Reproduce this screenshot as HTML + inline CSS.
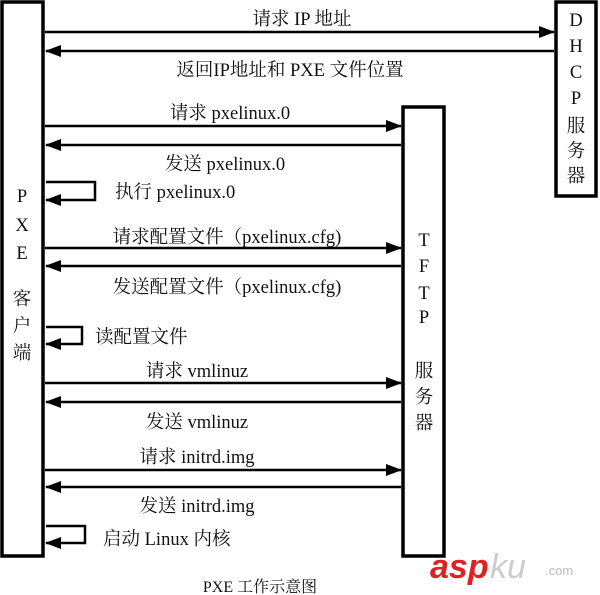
<!DOCTYPE html>
<html><head><meta charset="utf-8"><style>
body{margin:0;background:#fff}
svg{display:block}
text{font-family:"Liberation Serif","Noto Serif CJK SC",serif;font-size:18.5px;fill:#111}
</style></head><body>
<svg width="600" height="595" viewBox="0 0 600 595">
<defs><marker id="a" markerWidth="16" markerHeight="12" refX="15" refY="6" orient="auto" markerUnits="userSpaceOnUse"><path d="M0,0 L16,6 L0,12 z" fill="#000"/></marker></defs>
<g fill="none" stroke="#000" stroke-width="3.5">
<rect x="2" y="2" width="41" height="554"/>
<rect x="556" y="2" width="40" height="194"/>
<rect x="403" y="107" width="41" height="449"/>
</g>
<g stroke="#000" stroke-width="2.5" fill="none" marker-end="url(#a)">
<line x1="45" y1="32" x2="554" y2="32"/>
<line x1="554" y1="51" x2="46" y2="51"/>
<line x1="45" y1="126" x2="401" y2="126"/>
<line x1="401" y1="145" x2="46" y2="145"/>
<polyline points="46,182 95,182 95,200 46,200"/>
<line x1="45" y1="248" x2="401" y2="248"/>
<line x1="401" y1="266" x2="46" y2="266"/>
<polyline points="46,327 82,327 82,344 46,344"/>
<line x1="45" y1="383" x2="401" y2="383"/>
<line x1="401" y1="402" x2="46" y2="402"/>
<line x1="45" y1="470" x2="401" y2="470"/>
<line x1="401" y1="487" x2="46" y2="487"/>
<polyline points="46,526 85,526 85,543 46,543"/>
</g>
<g text-anchor="middle">
<text x="302" y="25">请求 IP 地址</text>
<text x="290" y="76">返回IP地址和 PXE 文件位置</text>
<text x="230" y="119">请求 pxelinux.0</text>
<text x="225" y="170">发送 pxelinux.0</text>
<text x="227" y="243">请求配置文件（pxelinux.cfg)</text>
<text x="227" y="293">发送配置文件（pxelinux.cfg)</text>
<text x="197" y="377">请求 vmlinuz</text>
<text x="197" y="428">发送 vmlinuz</text>
<text x="197" y="463">请求 initrd.img</text>
<text x="197" y="512">发送  initrd.img</text>
<text x="260" y="592" style="font-size:16px">PXE 工作示意图</text>
<text x="22" y="202">P</text><text x="22" y="231">X</text><text x="22" y="259">E</text>
<text x="22" y="305">客</text><text x="22" y="332">户</text><text x="22" y="359">端</text>
<text x="424" y="246">T</text><text x="424" y="272">F</text><text x="424" y="299">T</text><text x="424" y="323">P</text>
<text x="424" y="377">服</text><text x="424" y="403">务</text><text x="424" y="429">器</text>
<text x="576" y="26">D</text><text x="576" y="52">H</text><text x="576" y="78">C</text><text x="576" y="104">P</text>
<text x="576" y="132">服</text><text x="576" y="157">务</text><text x="576" y="182">器</text>
</g>
<text x="115" y="198">执行 pxelinux.0</text>
<text x="95" y="343">读配置文件</text>
<text x="103" y="545">启动 Linux 内核</text>
<text x="430" y="578" style="font-family:'Liberation Sans',sans-serif;font-size:34px;font-weight:bold;fill:#d22;font-style:italic">asp</text>
<text x="490" y="578" style="font-family:'Liberation Sans',sans-serif;font-size:34px;fill:#ccc;font-style:italic">ku</text>
<text x="545" y="575" style="font-family:'Liberation Sans',sans-serif;font-size:13px;fill:#bbb">.com</text>
</svg>
</body></html>
